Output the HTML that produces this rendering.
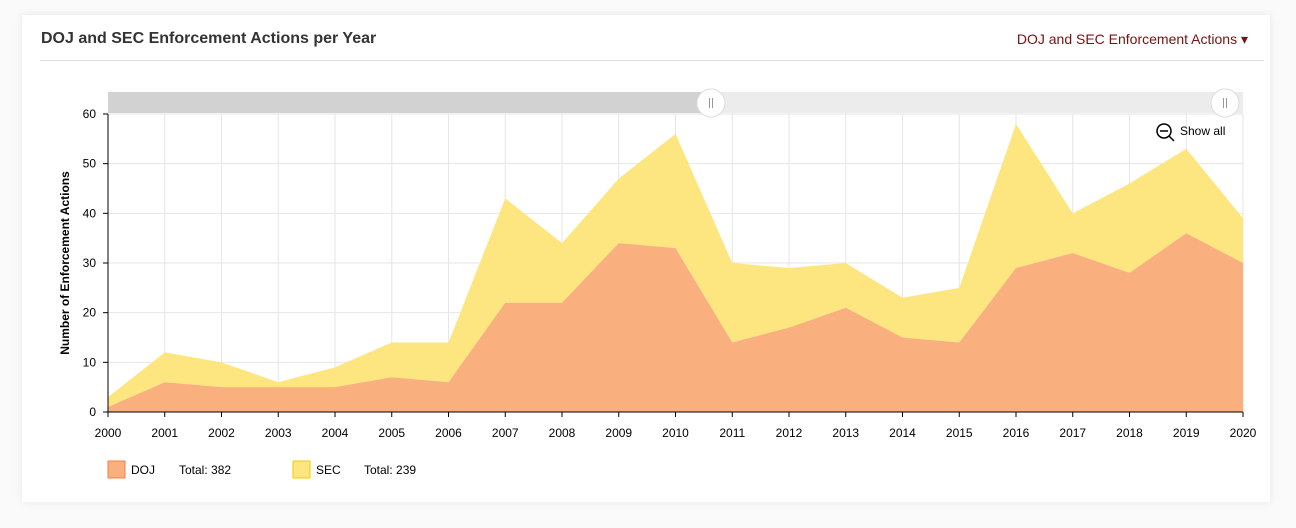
<!DOCTYPE html>
<html><head><meta charset="utf-8"><style>
body{margin:0;width:1296px;height:528px;background:#fafafa;font-family:"Liberation Sans",sans-serif;overflow:hidden}
.card{position:absolute;left:22px;top:15px;width:1248px;height:487px;background:#fff;box-shadow:0 0 8px rgba(0,0,0,0.08)}
.title{position:absolute;left:41px;top:30px;font-size:16px;font-weight:bold;color:#333}
.dd{position:absolute;right:48px;top:31px;font-size:14px;color:#7a1010}
.rule{position:absolute;left:40px;top:60px;width:1224px;height:1px;background:#ddd}
svg{position:absolute;left:0;top:0}
</style></head><body>
<div class="card"></div>
<div class="title">DOJ and SEC Enforcement Actions per Year</div>
<div class="dd">DOJ and SEC Enforcement Actions ▾</div>
<div class="rule"></div>
<svg id="c" width="1296" height="528"></svg>
<script>
const years=[2000,2001,2002,2003,2004,2005,2006,2007,2008,2009,2010,2011,2012,2013,2014,2015,2016,2017,2018,2019,2020];
const doj=[1,6,5,5,5,7,6,22,22,34,33,14,17,21,15,14,29,32,28,36,30];
const sec=[2,6,5,1,4,7,8,21,12,13,23,16,12,9,8,11,29,8,18,17,9];
const yTicks=[0,10,20,30,40,50,60];
const X0=108,X1=1243,Y0=412,Y1=114,YMAX=60;
const x=i=>X0+(X1-X0)*i/(years.length-1);
const y=v=>Y0-(Y0-Y1)*v/YMAX;
const s=document.getElementById('c');const NS='http://www.w3.org/2000/svg';
function mk(t,a,txt){const e=document.createElementNS(NS,t);for(const k in a)e.setAttribute(k,a[k]);if(txt!=null)e.textContent=txt;s.appendChild(e);return e;}
yTicks.forEach(v=>{const g=mk('line',{x1:X0,x2:X1,y1:y(v),y2:y(v),stroke:'#e6e6e6'});

const t=mk('text',{x:X0-12,y:y(v)+4,'text-anchor':'end','font-size':12,fill:'#000'},v);

mk('line',{x1:X0-5,x2:X0,y1:y(v),y2:y(v),stroke:'#000'});});
years.forEach((yr,i)=>{const g=mk('line',{x1:x(i),x2:x(i),y1:Y1,y2:Y0,stroke:'#e6e6e6'});

const t=mk('text',{x:x(i),y:Y0+25,'text-anchor':'middle','font-size':12,fill:'#000'},yr);

mk('line',{x1:x(i),x2:x(i),y1:Y0,y2:Y0+5,stroke:'#000'});});
const tot=doj.map((d,i)=>d+sec[i]);
let p='M'+x(0)+','+y(0);tot.forEach((v,i)=>p+=' L'+x(i)+','+y(v));
for(let i=doj.length-1;i>=0;i--)p+=' L'+x(i)+','+y(doj[i]);p+='Z';
const a2=mk('path',{d:p,fill:'#fde680'});
let q='M'+x(0)+','+y(0);doj.forEach((v,i)=>q+=' L'+x(i)+','+y(v));q+=' L'+x(doj.length-1)+','+y(0)+'Z';
const a1=mk('path',{d:q,fill:'#f9b07e'});
mk('line',{x1:X0,x2:X0,y1:Y1,y2:Y0,stroke:'#000'});mk('line',{x1:X0,x2:X1,y1:Y0,y2:Y0,stroke:'#000'});
const yt=mk('text',{x:0,y:0,transform:'translate(69,263) rotate(-90)','text-anchor':'middle','font-size':12,'font-weight':'bold'},'Number of Enforcement Actions');

// scrollbar
const sb=mk('rect',{x:X0,y:92,width:X1-X0,height:21,fill:'#ececec'});
mk('rect',{x:X0,y:92,width:711-X0,height:21,fill:'#d2d2d2'});
[711,1225].forEach(cx=>{const h=mk('circle',{cx:cx,cy:103,r:14,fill:'#fff',stroke:'#ddd'});
mk('line',{x1:cx-1.5,x2:cx-1.5,y1:98,y2:108,stroke:'#999'});mk('line',{x1:cx+1.5,x2:cx+1.5,y1:98,y2:108,stroke:'#999'});});
const z=mk('circle',{cx:1164,cy:131,r:7,fill:'none',stroke:'#000','stroke-width':1.5});
mk('line',{x1:1160,x2:1168,y1:131,y2:131,stroke:'#000','stroke-width':1.5});mk('line',{x1:1169,x2:1174,y1:136,y2:141,stroke:'#000','stroke-width':1.5});
const sa=mk('text',{x:1180,y:135,'font-size':12},'Show all');
// legend
[[108,'#f9b07e','#f08040','DOJ','Total: 382'],[293,'#fde680','#f5c800','SEC','Total: 239']].forEach(l=>{
const r=mk('rect',{x:l[0],y:461,width:17,height:17,fill:l[1],stroke:l[2]});
const t=mk('text',{x:l[0]+23,y:474,'font-size':12},l[3]);
const t2=mk('text',{x:l[0]+71,y:474,'font-size':12},l[4]);});
</script></body></html>
